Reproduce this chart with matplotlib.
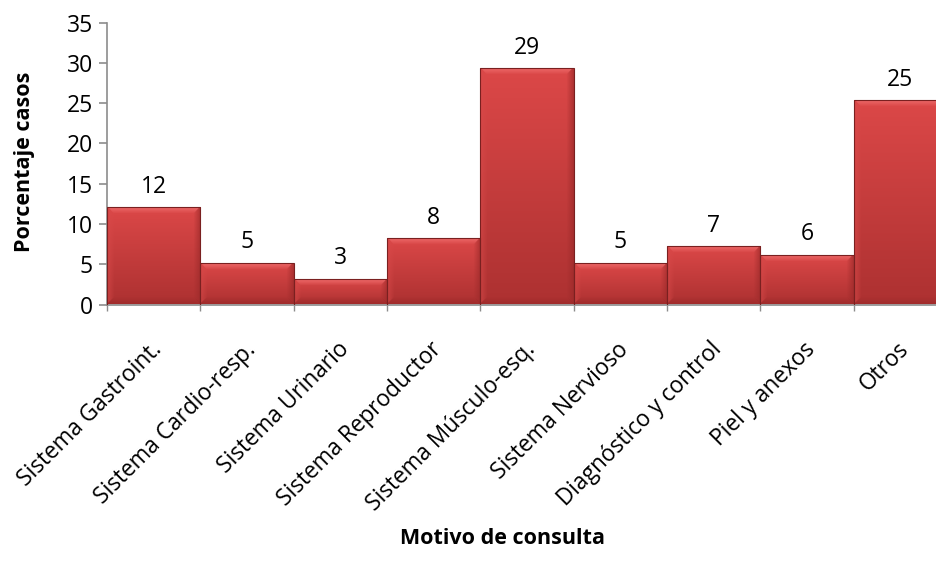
import matplotlib
matplotlib.use('Agg')
import matplotlib.pyplot as plt
import matplotlib.transforms as mtransforms
import numpy as np
from matplotlib.colors import to_rgb

categories = [
    'Sistema Gastroint.', 'Sistema Cardio-resp.', 'Sistema Urinario',
    'Sistema Reproductor', 'Sistema Músculo-esq.', 'Sistema Nervioso',
    'Diagnóstico y control', 'Piel y anexos', 'Otros',
]
porcentajes = [12.1, 5.2, 3.2, 8.2, 29.3, 5.2, 7.2, 6.2, 25.4]
etiquetas = ['12', '5', '3', '8', '29', '5', '7', '6', '25']
yticks = [0, 5, 10, 15, 20, 25, 30, 35]

W, H, DPI = 937, 569, 100
plt.rcParams['font.family'] = ['Open Sans', 'DejaVu Sans']

fig = plt.figure(figsize=(W / DPI, H / DPI), dpi=DPI)
# right edge runs past the picture, as in the original (last bar is cut)
ax = fig.add_axes([107 / W, 1 - 304.5 / H, 840 / W, 282 / H])
ax.set_xlim(-0.5, len(categories) - 0.5)
ax.set_ylim(0, 35)

TOP = np.array(to_rgb('#dc4848'))
BOTTOM = np.array(to_rgb('#ad3131'))
BEVEL_TOP = np.array(to_rgb('#f07070'))
BEVEL_LEFT = np.array(to_rgb('#d84a4a'))
BEVEL_RIGHT = np.array(to_rgb('#9c2a2a'))
BEVEL_BOTTOM = np.array(to_rgb('#992828'))

px_x = ax.get_position().width * W / 9.0   # pixels per x unit
px_y = ax.get_position().height * H / 35.0  # pixels per y unit

bars = ax.bar(range(len(categories)), porcentajes, width=1.0,
              color='none', edgecolor='#7a2020', linewidth=0.8, zorder=3)

for b in bars:
    x0, y0 = b.get_x(), b.get_y()
    w, h = b.get_width(), b.get_height()
    npx_w = max(int(round(w * px_x)), 2)
    npx_h = max(int(round(h * px_y)), 2)
    yy, xx = np.mgrid[0:npx_h, 0:npx_w]
    t = yy / max(npx_h - 1, 1)
    img = TOP[None, None, :] * (1 - t[..., None]) + BOTTOM[None, None, :] * t[..., None]
    bev = 7
    d_top = yy
    d_bot = npx_h - 1 - yy
    d_left = xx
    d_right = npx_w - 1 - xx
    dmin = np.minimum.reduce([d_top, d_bot, d_left, d_right])
    for d, c, s in [(d_top, BEVEL_TOP, 0.9), (d_left, BEVEL_LEFT, 0.6),
                    (d_right, BEVEL_RIGHT, 0.7), (d_bot, BEVEL_BOTTOM, 0.6)]:
        m = (d == dmin) & (d < bev)
        k = (s * (1 - d / bev))[..., None]
        img = np.where(m[..., None], img * (1 - k) + c * k, img)
    im = ax.imshow(img, extent=(x0, x0 + w, y0, y0 + h), aspect='auto',
                   interpolation='bilinear', zorder=2)
    im.set_clip_path(b)

ax.set_xlim(-0.5, len(categories) - 0.5)
ax.set_ylim(0, 35)

for i, (v, lab) in enumerate(zip(porcentajes, etiquetas)):
    ax.annotate(lab, (i, v), xytext=(0, 6), textcoords='offset points',
                ha='center', va='bottom', fontsize=16.5, color='black')

for s in ['top', 'right']:
    ax.spines[s].set_visible(False)
for s in ['left', 'bottom']:
    ax.spines[s].set_color('#8c8c8c')
    ax.spines[s].set_linewidth(1.2)

ax.set_yticks(yticks)
ax.tick_params(axis='y', length=6, width=1.2, color='#8c8c8c',
               labelsize=16.5, pad=4)
ax.set_xticks(range(len(categories)))
ax.set_xticklabels(categories, rotation=45, ha='right', va='center',
                   rotation_mode='anchor', fontsize=16.3)
ax.tick_params(axis='x', length=0, pad=30)
ax.set_xticks(np.arange(-0.5, len(categories), 1.0), minor=True)
ax.tick_params(axis='x', which='minor', length=4, width=1.0, color='#8c8c8c')

shift = mtransforms.ScaledTranslation(5 / DPI, 0, fig.dpi_scale_trans)
for lbl in ax.get_xticklabels():
    lbl.set_transform(lbl.get_transform() + shift)

fig.text(25 / W, 1 - 162 / H, 'Porcentaje casos', rotation=90,
         ha='center', va='center', fontsize=15.5, fontweight='bold')
fig.text(503 / W, 1 - 538 / H, 'Motivo de consulta',
         ha='center', va='center', fontsize=15.5, fontweight='bold')

fig.savefig('out.png', dpi=DPI)
